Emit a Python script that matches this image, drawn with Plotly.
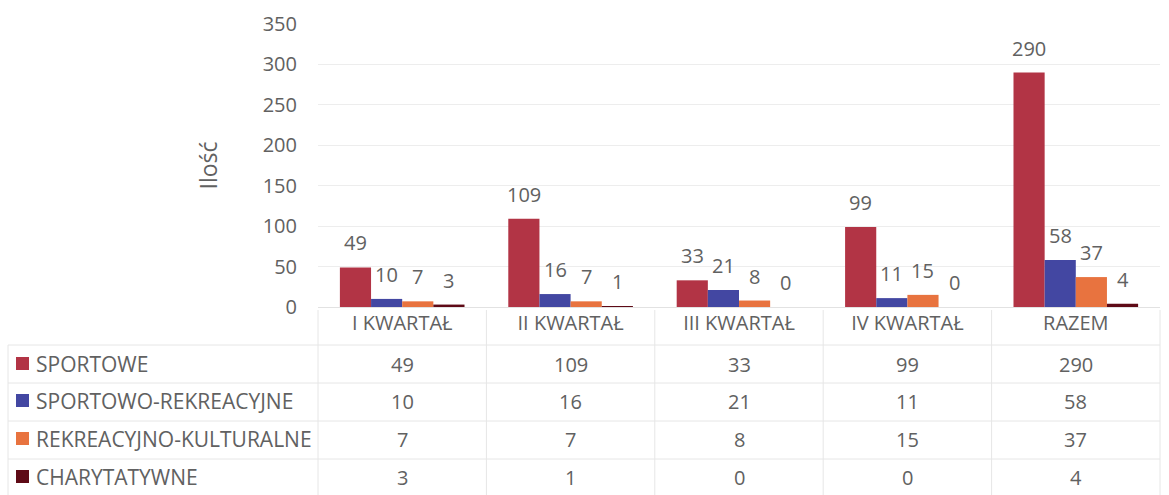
import plotly.graph_objects as go

categories = ["I KWARTAŁ", "II KWARTAŁ", "III KWARTAŁ", "IV KWARTAŁ", "RAZEM"]
series_names = ["SPORTOWE", "SPORTOWO-REKREACYJNE", "REKREACYJNO-KULTURALNE", "CHARYTATYWNE"]
sportowe = [49, 109, 33, 99, 290]
sportowo_rekreacyjne = [10, 16, 21, 11, 58]
rekreacyjno_kulturalne = [7, 7, 8, 15, 37]
charytatywne = [3, 1, 0, 0, 4]
y_ticks = [0, 50, 100, 150, 200, 250, 300, 350]

series_values = [sportowe, sportowo_rekreacyjne, rekreacyjno_kulturalne, charytatywne]
colors = ["#B23445", "#4347A2", "#E8733F", "#5E0A16"]

W, H = 1169, 495
FONT = "Open Sans"
TXT = "#616161"
GRID = "#EDEDED"
FS = 20

# pixel geometry
px_left, px_right = 318, 1160
py_top, py_bottom = 24, 307
bargap = 0.26
n_ser = len(series_names)
col_w = (px_right - px_left) / len(categories)
bar_w = col_w * (1 - bargap) / n_ser

fig = go.Figure()
for i, (name, vals, col) in enumerate(zip(series_names, series_values, colors)):
    fig.add_trace(go.Bar(
        x=categories, y=vals, name=name, marker_color=col, marker_line_width=0,
    ))
    for cat, v in zip(categories, vals):
        fig.add_annotation(
            x=cat, y=v, xref="x", yref="y", text=str(v), showarrow=False,
            xanchor="center", yanchor="bottom", xshift=(i - (n_ser - 1) / 2) * bar_w,
            yshift=9, font=dict(family=FONT, size=FS, color=TXT),
        )

fig.update_layout(
    width=W, height=H,
    margin=dict(l=0, r=0, t=0, b=0),
    paper_bgcolor="white", plot_bgcolor="white",
    barmode="group", bargap=bargap, bargroupgap=0,
    showlegend=False,
    font=dict(family=FONT, size=FS, color=TXT),
)
fig.update_xaxes(
    domain=[px_left / W, px_right / W], automargin=False,
    showgrid=False, showline=False, zeroline=False,
    tickfont=dict(family=FONT, size=FS, color=TXT),
    ticks="", ticklabelstandoff=2,
)
fig.update_yaxes(
    domain=[1 - py_bottom / H, 1 - py_top / H], automargin=False,
    range=[0, 350], tickvals=y_ticks,
    showgrid=True, gridcolor=GRID, gridwidth=1,
    zeroline=True, zerolinecolor="#E2E2E2", zerolinewidth=1,
    showline=False, ticks="",
    tickfont=dict(family=FONT, size=FS, color=TXT),
    ticklabelstandoff=20,
    title=dict(text="Ilość", standoff=38, font=dict(family=FONT, size=23, color=TXT)),
)

# data table
row_lines = [345, 383, 421, 459]
row_centers = [364, 401, 439, 477]
col_edges = [px_left + i * col_w for i in range(len(categories) + 1)]
line_col = "#E6E6E6"

for y in row_lines:
    fig.add_shape(type="line", xref="paper", yref="paper",
                  x0=8 / W, x1=px_right / W, y0=1 - y / H, y1=1 - y / H,
                  line=dict(color=line_col, width=1))
for x in col_edges:
    fig.add_shape(type="line", xref="paper", yref="paper",
                  x0=x / W, x1=x / W, y0=0, y1=1 - 310 / H,
                  line=dict(color=line_col, width=1))
fig.add_shape(type="line", xref="paper", yref="paper",
              x0=8 / W, x1=8 / W, y0=0, y1=1 - 345 / H,
              line=dict(color=line_col, width=1))

for r, (name, vals, col) in enumerate(zip(series_names, series_values, colors)):
    yc = row_centers[r]
    fig.add_shape(type="rect", xref="paper", yref="paper",
                  x0=16 / W, x1=29 / W, y0=1 - (yc + 6) / H, y1=1 - (yc - 7) / H,
                  fillcolor=col, line=dict(width=0))
    fig.add_annotation(
        xref="paper", yref="paper", x=34 / W, y=1 - yc / H, xanchor="left", yanchor="middle",
        text=name, showarrow=False,
        font=dict(family=FONT, size=21, color=TXT),
    )
    for c, v in enumerate(vals):
        xc = (col_edges[c] + col_edges[c + 1]) / 2
        fig.add_annotation(
            xref="paper", yref="paper", x=xc / W, y=1 - yc / H, xanchor="center", yanchor="middle",
            text=str(v), showarrow=False,
            font=dict(family=FONT, size=FS, color=TXT),
        )

fig.write_html(
    "out.html",
    config={"displayModeBar": False},
    post_script="document.body.style.margin='0';document.body.style.overflow='hidden';",
)
